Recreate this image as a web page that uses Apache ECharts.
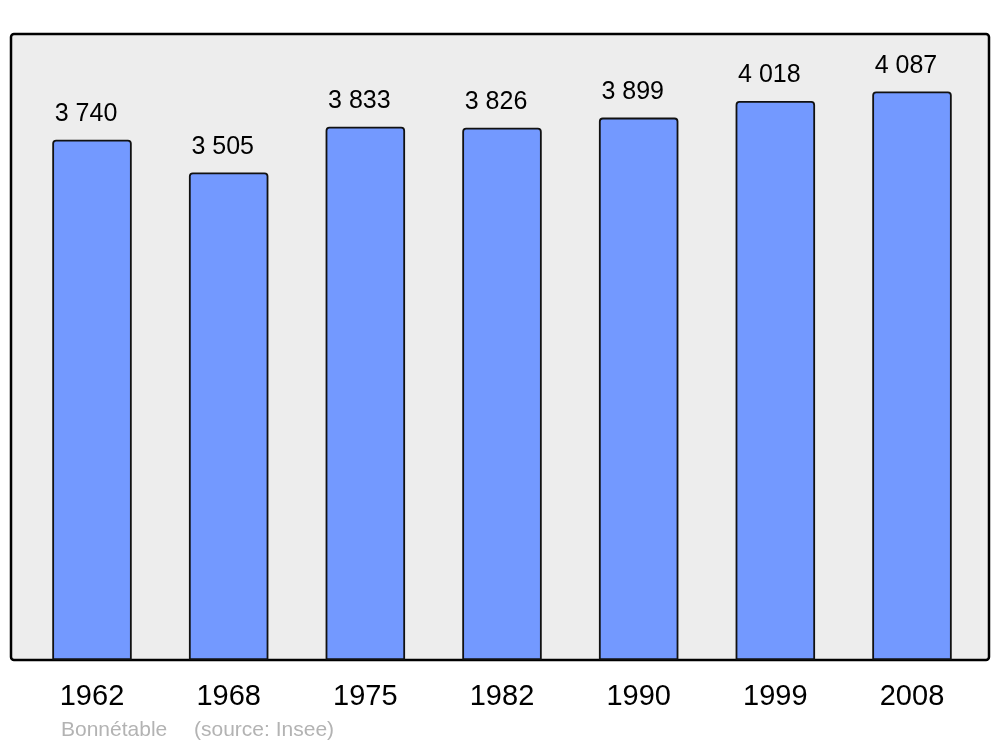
<!DOCTYPE html>
<html>
<head>
<meta charset="utf-8">
<script src="https://cdn.jsdelivr.net/npm/echarts@6/dist/echarts.min.js"></script>
<style>html,body{margin:0;padding:0;background:#fff}#c{width:1000px;height:747px}</style>
</head>
<body>
<div id="c"></div>
<script>
var years = ['1962', '1968', '1975', '1982', '1990', '1999', '2008'];
var population = [3740, 3505, 3833, 3826, 3899, 4018, 4087];
var footerName = 'Bonnétable';
var footerSource = '(source: Insee)';

function fmt(v) {
  var s = String(v);
  return s.length > 3 ? s.slice(0, s.length - 3) + ' ' + s.slice(-3) : s;
}

var FONT = '"Liberation Sans", Arial, sans-serif';
var chart = echarts.init(document.getElementById('c'));
chart.setOption({
  animation: false,
  backgroundColor: '#ffffff',
  grid: { left: 23.67, right: 19.67, top: 34, bottom: 87 },
  graphic: [
    {
      type: 'rect', z: -10,
      shape: { x: 11, y: 34, width: 978, height: 626, r: 3 },
      style: { fill: '#ededed', stroke: '#000000', lineWidth: 2.5 }
    },
    {
      type: 'text', x: 61, y: 730,
      style: { text: footerName, fill: '#b3b3b3', font: '21px ' + FONT, verticalAlign: 'middle' }
    },
    {
      type: 'text', x: 194, y: 730,
      style: { text: footerSource, fill: '#b3b3b3', font: '21px ' + FONT, verticalAlign: 'middle' }
    }
  ],
  xAxis: {
    type: 'category',
    data: years,
    axisLine: { show: false },
    axisTick: { show: false },
    axisLabel: { fontSize: 29, color: '#000', margin: 22, fontFamily: FONT }
  },
  yAxis: {
    type: 'value', min: 0, max: 4500, show: false, splitLine: { show: false }
  },
  series: [{
    type: 'bar',
    data: population,
    barWidth: 79.5,
    itemStyle: { color: '#7399ff', borderColor: '#111111', borderWidth: 1.8, borderRadius: [3, 3, 0, 0] },
    label: {
      show: true, position: 'top', distance: 13, offset: [-6, 0],
      fontSize: 25, color: '#000', fontFamily: FONT,
      formatter: function (p) { return fmt(p.value); }
    }
  }]
});
</script>
</body>
</html>
